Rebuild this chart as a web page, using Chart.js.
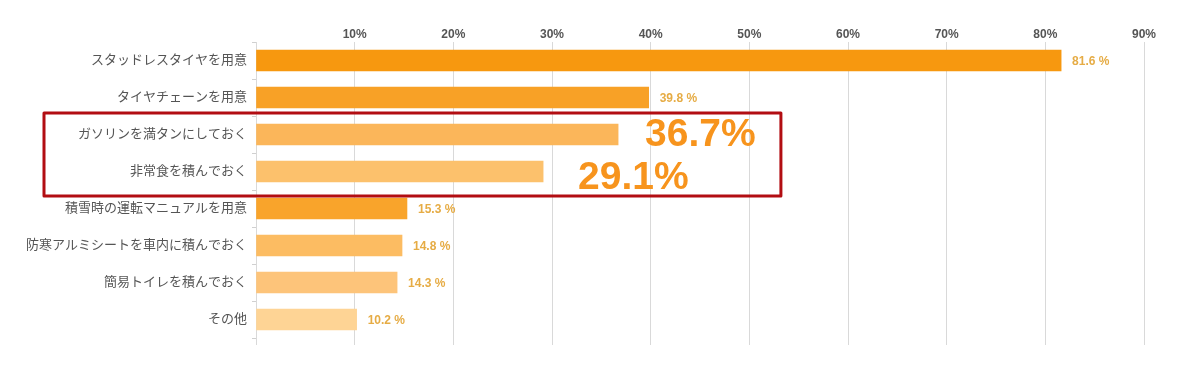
<!DOCTYPE html>
<html>
<head>
<meta charset="utf-8">
<script src="https://cdn.jsdelivr.net/npm/chart.js@4"></script>
<style>
  html, body { margin: 0; padding: 0; background: #fff; }
  #wrap { width: 1200px; height: 372px; }
</style>
</head>
<body>
<div id="wrap"><canvas id="myChart" width="1200" height="372"></canvas></div>
<script>
// data
const categories = [
  'スタッドレスタイヤを用意',
  'タイヤチェーンを用意',
  'ガソリンを満タンにしておく',
  '非常食を積んでおく',
  '積雪時の運転マニュアルを用意',
  '防寒アルミシートを車内に積んでおく',
  '簡易トイレを積んでおく',
  'その他'
];
const values = [81.6, 39.8, 36.7, 29.1, 15.3, 14.8, 14.3, 10.2];
const barColors = ['#f7980f', '#f8a126', '#fbb65a', '#fcc16c', '#f9a42b', '#fcbc62', '#fdc47a', '#fed495'];
const tickValues = [10, 20, 30, 40, 50, 60, 70, 80, 90];
const highlighted = [2, 3]; // rows called out in the red box

const FONT = '"Liberation Sans", Arial, "Noto Sans CJK JP", sans-serif';

//grid lines run a bit past the bottom of the plot
const gridTail = {
  id: 'gridTail',
  beforeDatasetsDraw(chart) {
    const ctx = chart.ctx;
    const xs = chart.scales.x;
    const b = chart.chartArea.bottom;
    ctx.save();
    ctx.strokeStyle = '#d9d9d9';
    ctx.lineWidth = 1;
    [0].concat(tickValues).forEach(function (v) {
      const x = Math.round(xs.getPixelForValue(v) - 0.5) + 0.5;
      ctx.beginPath();
      ctx.moveTo(x, b);
      ctx.lineTo(x, b + 7);
      ctx.stroke();
    });
    ctx.restore();
  }
};

//draws value labels, big callouts and the red frame
const labelPlugin = {
  id: 'labels',
  afterDatasetsDraw(chart) {
    const ctx = chart.ctx;
    const meta = chart.getDatasetMeta(0);
    const xs = chart.scales.x;
    const ys = chart.scales.y;
    ctx.save();
    ctx.textBaseline = 'middle';
    ctx.textAlign = 'left';
    ctx.font = 'bold 12px ' + FONT;
    ctx.fillStyle = '#e6ac45';
    meta.data.forEach(function (bar, i) {
      if (highlighted.indexOf(i) >= 0) return;
      ctx.fillText(values[i].toFixed(1) + ' %', bar.x + 11, bar.y + 1);
    });

    // big callouts
    ctx.font = 'bold 39px ' + FONT;
    ctx.fillStyle = '#f7941d';
    const offs = [27, 35];
    const dy = [1, 7];
    highlighted.forEach(function (i, k) {
      const bar = meta.data[i];
      ctx.fillText(values[i].toFixed(1) + '%', bar.x + offs[k], bar.y + dy[k]);
    });

    // red frame
    const step = ys.getPixelForValue(1) - ys.getPixelForValue(0);
    const top = ys.getPixelForValue(highlighted[0]) - step / 2 - 3;
    const bottom = ys.getPixelForValue(highlighted[1]) + step / 2 + 6;
    const left = 44;
    const right = xs.getPixelForValue(53.2);
    ctx.strokeStyle = '#b20d12';
    ctx.lineWidth = 3;
    ctx.lineJoin = 'round';
    ctx.strokeRect(left, top, right - left, bottom - top);
    ctx.restore();
  }
};

const myChart = new Chart(document.getElementById('myChart').getContext('2d'), {
  type: 'bar',
  data: {
    labels: categories,
    datasets: [{
      data: values,
      backgroundColor: barColors,
      borderWidth: 0,
      barThickness: 21
    }]
  },
  options: {
    indexAxis: 'y',
    responsive: false,
    animation: false,
    layout: { padding: { left: 0, right: 56, top: 0, bottom: 34 } },
    plugins: {
      legend: { display: false },
      tooltip: { enabled: false }
    },
    scales: {
      x: {
        position: 'top',
        min: 0,
        max: 90,
        afterBuildTicks: function (scale) {
          scale.ticks = [0].concat(tickValues).map(function (v) { return { value: v }; });
        },
        afterFit: function (scale) { scale.height = 42; },
        ticks: {
          callback: function (v) { return v === 0 ? '' : v + '%'; },
          color: '#555',
          font: { family: FONT, size: 12, weight: 'bold' },
          padding: 0,
          maxRotation: 0
        },
        grid: { color: '#d9d9d9', lineWidth: 1, tickLength: 0 },
        border: { display: false }
      },
      y: {
        afterFit: function (scale) { scale.width = 256; },
        ticks: {
          color: '#555',
          font: { family: FONT, size: 13 },
          padding: 5
        },
        grid: { offset: true, drawOnChartArea: false, tickLength: 4, color: '#d0d0d0' },
        border: { display: true, color: '#d9d9d9' }
      }
    }
  },
  plugins: [gridTail, labelPlugin]
});
</script>
</body>
</html>
